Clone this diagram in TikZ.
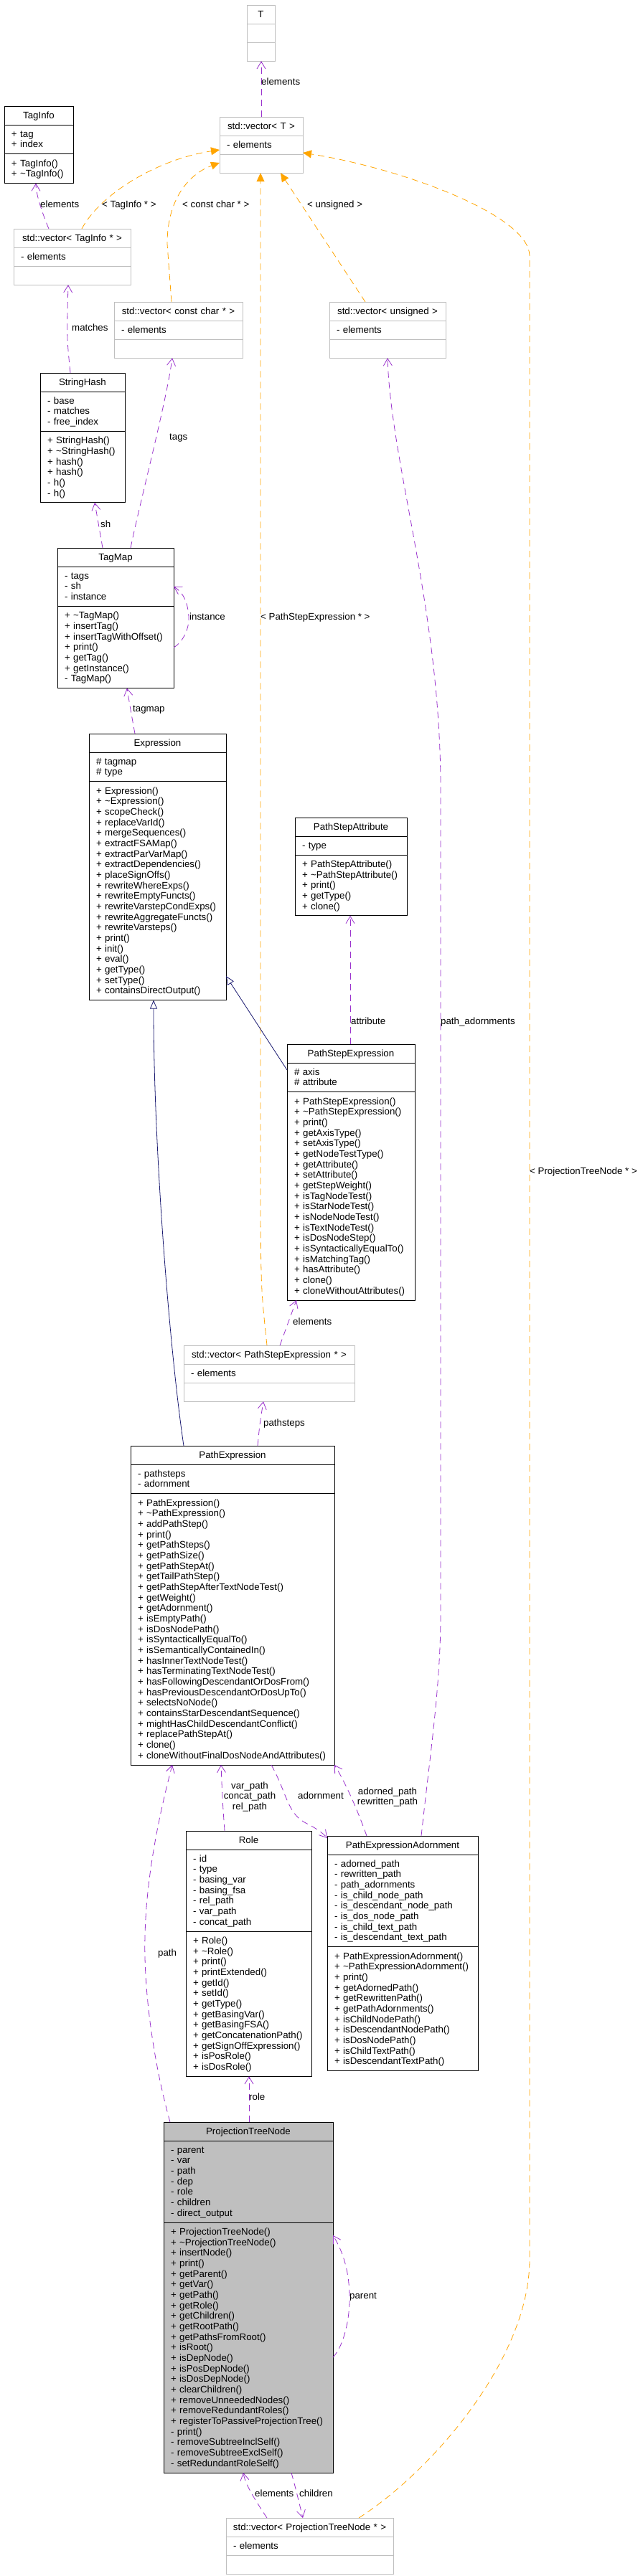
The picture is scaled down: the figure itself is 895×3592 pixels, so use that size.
\documentclass[tikz,border=0pt]{standalone}
\usepackage{fontspec}
\setmainfont{Liberation Sans}
\usetikzlibrary{shapes.multipart,arrows.meta,calc}
\definecolor{usecol}{HTML}{9A32CD}
\definecolor{tplcol}{HTML}{FFA500}
\definecolor{inhcol}{HTML}{191970}
\definecolor{gborder}{HTML}{BFBFBF}
\definecolor{gfill}{HTML}{BFBFBF}
\newcommand\dfont{\fontsize{13.3pt}{14.67pt}\selectfont\lineskiplimit=-20pt}
\newcommand\SL{\vrule height 11.5pt depth 3.17pt width 0pt}
\newcommand\mP{\SL+~}
\newcommand\mM{\SL-~}
\newcommand\mH{\SL\#~}
\newcommand\ttl[1]{\hbox to\hsize{\hss\SL #1\hss}}
\setlength\parindent{0pt}
\begin{document}
\begin{tikzpicture}[x=1pt,y=-1pt,
 cls/.style={rectangle split, rectangle split parts=3, draw=black, line width=0.9pt,
   inner xsep=10pt, inner ysep=5.25pt, outer sep=0pt, anchor=north west, font=\dfont, text=black},
 tpl/.style={cls, draw=gborder},
 lbl/.style={font=\dfont, inner sep=0pt, anchor=base west},
 clbl/.style={font=\dfont, inner sep=0pt, align=center},
 usedge/.style={draw=usecol, line width=0.8pt, dash pattern=on 9pt off 6pt, -{Straight Barb[length=10pt,width=12pt]}},
 instedge/.style={draw=tplcol, line width=0.8pt, dash pattern=on 9pt off 6pt, -{Triangle[length=12pt,width=11pt]}},
 inhedge/.style={draw=inhcol, line width=0.8pt, -{Triangle[open,length=12pt,width=10pt]}},
]
\fill[white] (0,0) rectangle (895,3592);
\useasboundingbox (0,0) rectangle (895,3592);

% ---------- class boxes ----------
\node[tpl, text width=19pt] (T) at (344,7) {\ttl{T}\nodepart{two}\SL\nodepart{three}\SL};
\node[tpl, text width=96pt] (VT) at (306,163) {\ttl{std::vector< T >}\nodepart{two}\raggedright\mM elements\nodepart{three}\SL};
\node[cls, text width=76pt] (TI) at (6,148) {\ttl{TagInfo}\nodepart{two}\raggedright\mP tag\\\mP index\nodepart{three}\raggedright\mP TagInfo()\\\mP\textasciitilde TagInfo()};
\node[tpl, text width=143pt] (VTI) at (19,319) {\ttl{std::vector< TagInfo * >}\nodepart{two}\raggedright\mM elements\nodepart{three}\SL};
\node[tpl, text width=159pt] (VCC) at (159,421) {\ttl{std::vector< const char * >}\nodepart{two}\raggedright\mM elements\nodepart{three}\SL};
\node[tpl, text width=142pt] (VU) at (459,421) {\ttl{std::vector< unsigned >}\nodepart{two}\raggedright\mM elements\nodepart{three}\SL};
\node[cls, text width=98pt] (SH) at (56,520) {\ttl{StringHash}\nodepart{two}\raggedright\mM base\\\mM matches\\\mM free\_index\nodepart{three}\raggedright\mP StringHash()\\\mP\textasciitilde StringHash()\\\mP hash()\\\mP hash()\\\mM h()\\\mM h()};
\node[cls, text width=142pt] (TM) at (80,764) {\ttl{TagMap}\nodepart{two}\raggedright\mM tags\\\mM sh\\\mM instance\nodepart{three}\raggedright\mP\textasciitilde TagMap()\\\mP insertTag()\\\mP insertTagWithOffset()\\\mP print()\\\mP getTag()\\\mP getInstance()\\\mM TagMap()};
\node[cls, text width=171pt] (EX) at (124,1023) {\ttl{Expression}\nodepart{two}\raggedright\mH tagmap\\\mH type\nodepart{three}\raggedright\mP Expression()\\\mP\textasciitilde Expression()\\\mP scopeCheck()\\\mP replaceVarId()\\\mP mergeSequences()\\\mP extractFSAMap()\\\mP extractParVarMap()\\\mP extractDependencies()\\\mP placeSignOffs()\\\mP rewriteWhereExps()\\\mP rewriteEmptyFuncts()\\\mP rewriteVarstepCondExps()\\\mP rewriteAggregateFuncts()\\\mP rewriteVarsteps()\\\mP print()\\\mP init()\\\mP eval()\\\mP getType()\\\mP setType()\\\mP containsDirectOutput()};
\node[cls, text width=136pt] (PSA) at (411,1140) {\ttl{PathStepAttribute}\nodepart{two}\raggedright\mM type\nodepart{three}\raggedright\mP PathStepAttribute()\\\mP\textasciitilde PathStepAttribute()\\\mP print()\\\mP getType()\\\mP clone()};
\node[cls, text width=158pt] (PSE) at (400,1456) {\ttl{PathStepExpression}\nodepart{two}\raggedright\mH axis\\\mH attribute\nodepart{three}\raggedright\mP PathStepExpression()\\\mP\textasciitilde PathStepExpression()\\\mP print()\\\mP getAxisType()\\\mP setAxisType()\\\mP getNodeTestType()\\\mP getAttribute()\\\mP setAttribute()\\\mP getStepWeight()\\\mP isTagNodeTest()\\\mP isStarNodeTest()\\\mP isNodeNodeTest()\\\mP isTextNodeTest()\\\mP isDosNodeStep()\\\mP isSyntacticallyEqualTo()\\\mP isMatchingTag()\\\mP hasAttribute()\\\mP clone()\\\mP cloneWithoutAttributes()};
\node[tpl, text width=218pt] (VPSE) at (256,1876) {\ttl{std::vector< PathStepExpression * >}\nodepart{two}\raggedright\mM elements\nodepart{three}\SL};
\node[cls, text width=264pt] (PE) at (182,2016) {\ttl{PathExpression}\nodepart{two}\raggedright\mM pathsteps\\\mM adornment\nodepart{three}\raggedright\mP PathExpression()\\\mP\textasciitilde PathExpression()\\\mP addPathStep()\\\mP print()\\\mP getPathSteps()\\\mP getPathSize()\\\mP getPathStepAt()\\\mP getTailPathStep()\\\mP getPathStepAfterTextNodeTest()\\\mP getWeight()\\\mP getAdornment()\\\mP isEmptyPath()\\\mP isDosNodePath()\\\mP isSyntacticallyEqualTo()\\\mP isSemanticallyContainedIn()\\\mP hasInnerTextNodeTest()\\\mP hasTerminatingTextNodeTest()\\\mP hasFollowingDescendantOrDosFrom()\\\mP hasPreviousDescendantOrDosUpTo()\\\mP selectsNoNode()\\\mP containsStarDescendantSequence()\\\mP mightHasChildDescendantConflict()\\\mP replacePathStepAt()\\\mP clone()\\\mP cloneWithoutFinalDosNodeAndAttributes()};
\node[cls, text width=155pt] (ROLE) at (259,2553) {\ttl{Role}\nodepart{two}\raggedright\mM id\\\mM type\\\mM basing\_var\\\mM basing\_fsa\\\mM rel\_path\\\mM var\_path\\\mM concat\_path\nodepart{three}\raggedright\mP Role()\\\mP\textasciitilde Role()\\\mP print()\\\mP printExtended()\\\mP getId()\\\mP setId()\\\mP getType()\\\mP getBasingVar()\\\mP getBasingFSA()\\\mP getConcatenationPath()\\\mP getSignOffExpression()\\\mP isPosRole()\\\mP isDosRole()};
\node[cls, text width=190pt] (PEA) at (456,2560) {\ttl{PathExpressionAdornment}\nodepart{two}\raggedright\mM adorned\_path\\\mM rewritten\_path\\\mM path\_adornments\\\mM is\_child\_node\_path\\\mM is\_descendant\_node\_path\\\mM is\_dos\_node\_path\\\mM is\_child\_text\_path\\\mM is\_descendant\_text\_path\nodepart{three}\raggedright\mP PathExpressionAdornment()\\\mP\textasciitilde PathExpressionAdornment()\\\mP print()\\\mP getAdornedPath()\\\mP getRewrittenPath()\\\mP getPathAdornments()\\\mP isChildNodePath()\\\mP isDescendantNodePath()\\\mP isDosNodePath()\\\mP isChildTextPath()\\\mP isDescendantTextPath()};
\node[cls, fill=gfill, text width=216pt] (PTN) at (228,2959) {\ttl{ProjectionTreeNode}\nodepart{two}\raggedright\mM parent\\\mM var\\\mM path\\\mM dep\\\mM role\\\mM children\\\mM direct\_output\nodepart{three}\raggedright\mP ProjectionTreeNode()\\\mP\textasciitilde ProjectionTreeNode()\\\mP insertNode()\\\mP print()\\\mP getParent()\\\mP getVar()\\\mP getPath()\\\mP getRole()\\\mP getChildren()\\\mP getRootPath()\\\mP getPathsFromRoot()\\\mP isRoot()\\\mP isDepNode()\\\mP isPosDepNode()\\\mP isDosDepNode()\\\mP clearChildren()\\\mP removeUnneededNodes()\\\mP removeRedundantRoles()\\\mP registerToPassiveProjectionTree()\\\mM print()\\\mM removeSubtreeInclSelf()\\\mM removeSubtreeExclSelf()\\\mM setRedundantRoleSelf()};
\node[tpl, text width=213pt] (VPTN) at (315,3511) {\ttl{std::vector< ProjectionTreeNode * >}\nodepart{two}\raggedright\mM elements\nodepart{three}\SL};

% ---------- connectors ----------
\draw[usedge] ($(VT.north west)+(58,0)$) -- ($(T.south west)+(20,0)$);
\node[lbl] (L1) at (364,118.5) {elements};

\draw[usedge] ($(VTI.north west)+(49,0)$) .. controls (58,295) and (50,270) .. ($(TI.south west)+(44,0)$);
\node[lbl] (L2) at (56,289) {elements};

\draw[instedge] ($(VTI.north west)+(95,0)$) .. controls (140,270) and (220,222) .. ($(VT.north west)+(0,46)$);
\node[lbl] (L3) at (142,289) {< TagInfo * >};

\draw[instedge] ($(VCC.north west)+(80,0)$) -- (233,340) .. controls (233,270) and (270,240) .. ($(VT.north west)+(0,64)$);
\node[lbl] (L4) at (254,289) {< const char * >};

\draw[instedge] ($(VU.north west)+(50,0)$) -- ($(VT.south west)+(85,0)$);
\node[lbl] (L5) at (428,289) {< unsigned >};

\draw[instedge] ($(VPSE.north west)+(116,0)$) .. controls (364,1800) .. (363,1700) -- ($(VT.south west)+(57,0)$);
\node[lbl] (L6) at (363,864) {< PathStepExpression * >};

\draw[instedge] ($(VPTN.north west)+(185,0)$) .. controls (600,3447) and (738,3290) .. (738,3150) -- (738,357) .. controls (738,300) and (560,235) .. ($(VT.north east)+(0,50)$);
\node[lbl] (L7) at (738,1637) {< ProjectionTreeNode * >};

\draw[usedge] ($(SH.north west)+(42,0)$) .. controls (93,470) .. ($(VTI.south west)+(76,0)$);
\node[lbl] (L8) at (100,461) {matches};

\draw[usedge] ($(TM.north west)+(63,0)$) .. controls (138,735) .. ($(SH.south west)+(76,0)$);
\node[lbl] (L9) at (140,735) {sh};

\draw[usedge] ($(TM.north west)+(102,0)$) .. controls (195,700) and (232,560) .. ($(VCC.south west)+(81,0)$);
\node[lbl] (L10) at (236,613) {tags};

\draw[usedge] ($(TM.north east)+(0,139)$) .. controls (258,893) and (264,872) .. (263,860) .. controls (262,842) and (256,826) .. ($(TM.north east)+(0,54)$);
\node[lbl] (L11) at (264,864) {instance};

\draw[usedge] ($(EX.north west)+(64,0)$) .. controls (182,990) .. ($(TM.south west)+(97,0)$);
\node[lbl] (L12) at (185,992) {tagmap};

\draw[inhedge] ($(PSE.north west)+(0,36)$) -- ($(EX.north east)+(0,338)$);
\draw[inhedge] ($(PE.north west)+(74,0)$) .. controls (236,1880) and (214,1600) .. ($(EX.south west)+(90,0)$);

\draw[usedge] ($(PSE.north west)+(88,0)$) -- ($(PSA.south west)+(77,0)$);
\node[lbl] (L15) at (489,1428) {attribute};

\draw[usedge] ($(PEA.north west)+(131,0)$) .. controls (600,2440) and (614,2350) .. (614,2250) -- (614,1100) .. controls (614,850) and (545,650) .. ($(VU.south west)+(81,0)$);
\node[lbl] (L16) at (614,1428) {path\_adornments};

\draw[usedge] ($(VPSE.north west)+(134,0)$) -- ($(PSE.south west)+(13,0)$);
\node[lbl] (L25) at (408,1847) {elements};

\draw[usedge] ($(PE.north west)+(177,0)$) .. controls (362,1985) .. ($(VPSE.south west)+(111,0)$);
\node[lbl] (L26) at (367,1988) {pathsteps};

\draw[usedge] ($(PTN.north west)+(9,0)$) .. controls (215,2880) and (200,2780) .. (202,2700) .. controls (204,2600) and (230,2500) .. ($(PE.south west)+(58,0)$);
\node[lbl] (L17) at (220,2727) {path};

\draw[usedge] ($(ROLE.north west)+(54,0)$) .. controls (310,2510) .. ($(PE.south west)+(126,0)$);
\node[clbl] (L18) at (348,2505.5) {var\_path\\concat\_path\\rel\_path};

\draw[usedge] ($(PE.south west)+(196,0)$) .. controls (400,2500) and (400,2530) .. (428,2543) .. controls (440,2549) and (450,2556) .. ($(PEA.north west)+(0,3)$);
\node[lbl] (L19) at (415,2508) {adornment};

\draw[usedge] ($(PEA.north west)+(55,0)$) .. controls (495,2515) and (478,2480) .. (PE.south east);
\node[clbl] (L20) at (540,2506) {adorned\_path\\rewritten\_path};

\draw[usedge] ($(PTN.north west)+(119,0)$) -- ($(ROLE.south west)+(88,0)$);
\node[lbl] (L21) at (347,2928) {role};

\draw[usedge] ($(PTN.north east)+(0,328)$) .. controls (480,3270) and (488,3230) .. (487,3200) .. controls (486,3160) and (475,3135) .. ($(PTN.north east)+(0,158)$);
\node[lbl] (L22) at (487,3205) {parent};

\draw[usedge] ($(VPTN.north west)+(57,0)$) .. controls (355,3485) and (342,3465) .. ($(PTN.south west)+(111,0)$);
\node[lbl] (L23) at (355,3481) {elements};

\draw[usedge] ($(PTN.south west)+(178,0)$) .. controls (412,3470) .. ($(VPTN.north west)+(107,0)$);
\node[lbl] (L24) at (417,3481) {children};
\end{tikzpicture}
\end{document}
